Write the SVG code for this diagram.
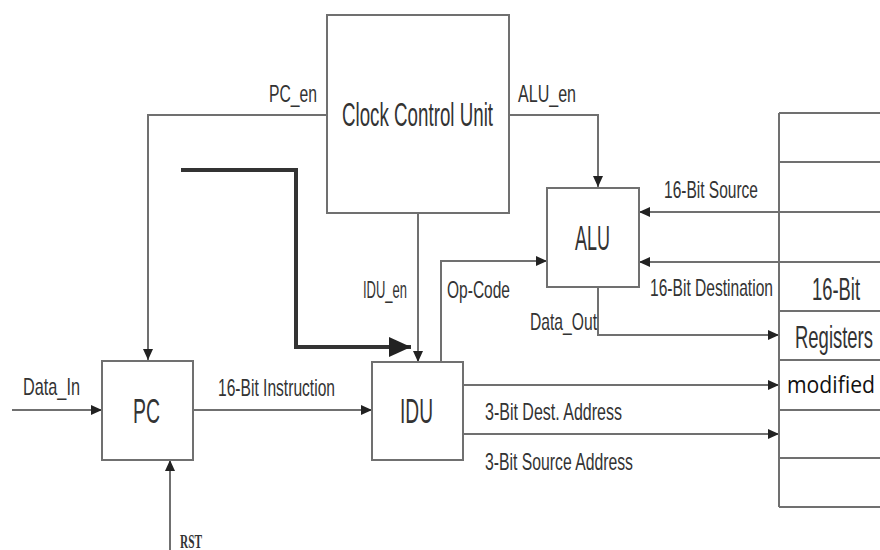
<svg xmlns="http://www.w3.org/2000/svg" width="880" height="550" viewBox="0 0 880 550">
<style>
.box{fill:#fff;stroke:#707070;stroke-width:2}
.ln{fill:none;stroke:#707070;stroke-width:2}
.thick{fill:none;stroke:#333;stroke-width:4}
.t{font-family:"Liberation Sans",Arial,sans-serif;fill:#333}
.s{font-size:24px}
.b{font-size:35px}
.m{font-size:32px}
.mod{font-family:"Open Sans","Noto Sans",sans-serif;font-size:24px;fill:#111}
.rst{font-family:"Liberation Serif",serif;font-weight:bold;font-size:19px;fill:#333}
</style>
<defs>
<marker id="a" markerUnits="userSpaceOnUse" markerWidth="11" markerHeight="10" refX="11" refY="5" orient="auto"><path d="M0,0 L11,5 L0,10 z" fill="#222"/></marker>
<marker id="A" markerUnits="userSpaceOnUse" markerWidth="22" markerHeight="20" refX="22" refY="10" orient="auto"><path d="M0,0 L22,10 L0,20 z" fill="#222"/></marker>
</defs>
<rect width="880" height="550" fill="#fff"/>
<g id="connectors">
<path class="ln" d="M327,115 H148 V360" marker-end="url(#a)"/>
<path class="ln" d="M509,115 H598 V187" marker-end="url(#a)"/>
<path class="ln" d="M418,213 V362" marker-end="url(#a)"/>
<path class="thick" d="M181,170 H296 V347 H411" marker-end="url(#A)"/>
<path class="ln" d="M12,410 H102" marker-end="url(#a)"/>
<path class="ln" d="M170,550 V460" marker-end="url(#a)"/>
<path class="ln" d="M193,410 H372" marker-end="url(#a)"/>
<path class="ln" d="M441,362 V261 H547" marker-end="url(#a)"/>
<path class="ln" d="M779,212 H639" marker-end="url(#a)"/>
<path class="ln" d="M779,262 H639" marker-end="url(#a)"/>
<path class="ln" d="M598,287 V335 H779" marker-end="url(#a)"/>
<path class="ln" d="M463,385 H779" marker-end="url(#a)"/>
<path class="ln" d="M463,434 H779" marker-end="url(#a)"/>
<text class="t s" x="269" y="102" textLength="48" lengthAdjust="spacingAndGlyphs">PC_en</text>
<text class="t s" x="518" y="102" textLength="58" lengthAdjust="spacingAndGlyphs">ALU_en</text>
<text class="t s" x="363" y="298" textLength="44" lengthAdjust="spacingAndGlyphs">IDU_en</text>
<text class="t s" x="447" y="298" textLength="63" lengthAdjust="spacingAndGlyphs">Op-Code</text>
<text class="t s" x="664" y="198" textLength="94" lengthAdjust="spacingAndGlyphs">16-Bit Source</text>
<text class="t s" x="650" y="296" textLength="123" lengthAdjust="spacingAndGlyphs">16-Bit Destination</text>
<text class="t s" x="530" y="330" textLength="67" lengthAdjust="spacingAndGlyphs">Data_Out</text>
<text class="t s" x="23" y="395" textLength="57" lengthAdjust="spacingAndGlyphs">Data_In</text>
<text class="t s" x="218" y="396" textLength="117" lengthAdjust="spacingAndGlyphs">16-Bit Instruction</text>
<text class="t s" x="485" y="420" textLength="137" lengthAdjust="spacingAndGlyphs">3-Bit Dest. Address</text>
<text class="t s" x="485" y="470" textLength="148" lengthAdjust="spacingAndGlyphs">3-Bit Source Address</text>
<text class="rst" x="180" y="548" textLength="22" lengthAdjust="spacingAndGlyphs">RST</text>
</g>
<g id="ccu">
<rect class="box" x="327" y="15" width="182" height="198"/>
<text class="t" x="342" y="126" font-size="33" textLength="151" lengthAdjust="spacingAndGlyphs">Clock Control Unit</text>
</g>
<g id="pc">
<rect class="box" x="102" y="361" width="91" height="99"/>
<text class="t b" x="133" y="423" textLength="27" lengthAdjust="spacingAndGlyphs">PC</text>
</g>
<g id="idu">
<rect class="box" x="372" y="362" width="91" height="98"/>
<text class="t b" x="400" y="423" textLength="33" lengthAdjust="spacingAndGlyphs">IDU</text>
</g>
<g id="alu">
<rect class="box" x="547" y="188" width="92" height="99"/>
<text class="t b" x="575" y="250" textLength="35" lengthAdjust="spacingAndGlyphs">ALU</text>
</g>
<g id="registers">
<path class="ln" d="M779,113 V507 M779,113 H880 M779,162 H880 M779,212 H880 M779,262 H880 M779,311 H880 M779,360 H880 M779,410 H880 M779,458 H880 M779,507 H880"/>
<text class="t m" x="812" y="300" textLength="48" lengthAdjust="spacingAndGlyphs">16-Bit</text>
<text class="t m" x="795" y="348" textLength="78" lengthAdjust="spacingAndGlyphs">Registers</text>
<text class="mod" x="787" y="393" textLength="88" lengthAdjust="spacingAndGlyphs">modified</text>
</g>
</svg>
